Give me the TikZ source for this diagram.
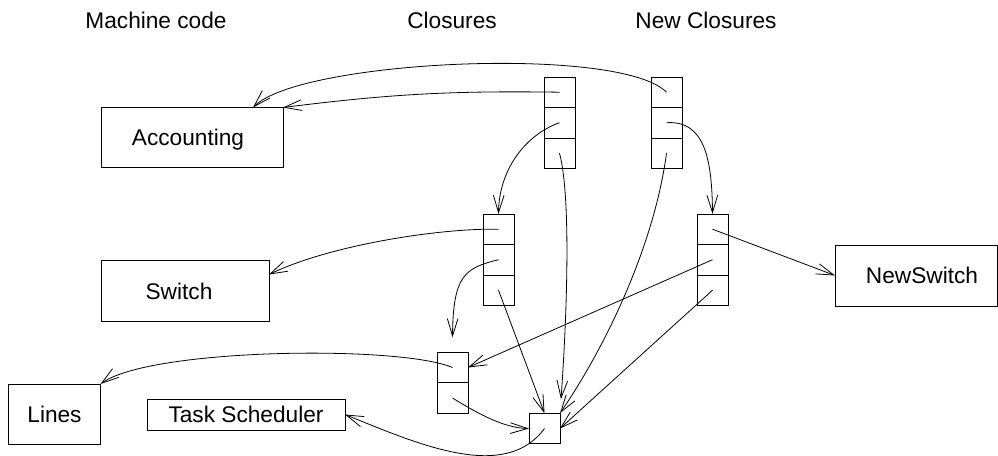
\documentclass[tikz,border=0pt]{standalone}
\usepackage{fontspec}
\setmainfont{Liberation Sans}
\usetikzlibrary{arrows.meta,positioning,calc}

\begin{document}
\begin{tikzpicture}[x=0.75pt, y=-0.75pt, node distance=0pt, line width=0.6pt,
        every node/.style={font=\fontsize{17}{20}\selectfont},
        cell/.style={draw,inner sep=0pt,outer sep=0pt,minimum width=23.25pt,minimum height=22.875pt},
        codebox/.style={draw,inner sep=0pt,outer sep=0pt,text height=12.2pt,text depth=0pt},
        ptr/.style={-{Straight Barb[length=13pt,width=8pt]}}]
        \useasboundingbox (0,0) rectangle (998,455);
        % column heads
        \node (hmc) at (156,20) {Machine code};
        \node (hcl) at (452,20) {Closures};
        \node (hnc) at (706,20) {New Closures};
        % machine code
        \node[codebox,minimum width=136.5pt,minimum height=45pt] (acct) at (192,137.5) {Accounting\kern6pt};
        \node[codebox,minimum width=126pt,minimum height=45.75pt] (switch) at (185,291) {Switch\kern9pt};
        \node[codebox,minimum width=121.5pt,minimum height=45.75pt] (nswitch) at (916,275.5) {\kern9pt NewSwitch};
        \node[codebox,minimum width=69pt,minimum height=45pt] (lines) at (54.5,414) {Lines};
        \node[codebox,minimum width=148.5pt,minimum height=23.25pt] (sched) at (246,414.5) {Task Scheduler};
        % closures
        \node[cell] (a1) at (559.5,92.2) {};
        \node[cell,below=of a1] (a2) {};
        \node[cell,below=of a2] (a3) {};
        \node[cell] (n1) at (666.5,92.2) {};
        \node[cell,below=of n1] (n2) {};
        \node[cell,below=of n2] (n3) {};
        \node[cell] (b1) at (498.5,229.2) {};
        \node[cell,below=of b1] (b2) {};
        \node[cell,below=of b2] (b3) {};
        \node[cell] (m1) at (712.5,229.2) {};
        \node[cell,below=of m1] (m2) {};
        \node[cell,below=of m2] (m3) {};
        \node[cell] (c1) at (452.5,367.5) {};
        \node[cell,below=of c1] (c2) {};
        \node[cell] (d) at (544.5,428.5) {};
        \coordinate (dtop) at ($(d.north east)+(1,-14)$);
        \coordinate (cabove) at ($(c1.north)+(0,-15)$);
        % pointers
        \draw[ptr] (a1.center) to[bend right=4] (acct.north east);
        \draw[ptr] (n1.center) .. controls (620,45) and (300,60) .. ($(acct.north east)+(-30,0)$);
        \draw[ptr] (a2.center) .. controls (525,135) and (499,170) .. (b1.north);
        \draw[ptr] (a3.center) .. controls (572,200) and (566,330) .. (dtop);
        \draw[ptr] (n2.center) .. controls (705,120) and (712,160) .. (m1.north);
        \draw[ptr] (n3.center) .. controls (655,240) and (610,340) .. (d.north east);
        \draw[ptr] (b1.center) .. controls (440,228) and (330,245) .. ($(switch.north east)+(0,14)$);
        \draw[ptr] (b2.center) .. controls (465,268) and (453,275) .. (cabove);
        \draw[ptr] (b3.center) -- (d.north);
        \draw[ptr] (m1.center) -- (nswitch.west);
        \draw[ptr] (m2.center) -- (c1.east);
        \draw[ptr] (m3.center) -- (d.east);
        \draw[ptr] (c1.center) .. controls (400,345) and (150,348) .. (lines.north east);
        \draw[ptr] (c2.center) .. controls (480,415) and (505,428) .. (d.west);
        \draw[ptr] (d.center) .. controls (505,482) and (420,445) .. (sched.east);
      \end{tikzpicture}
\end{document}
